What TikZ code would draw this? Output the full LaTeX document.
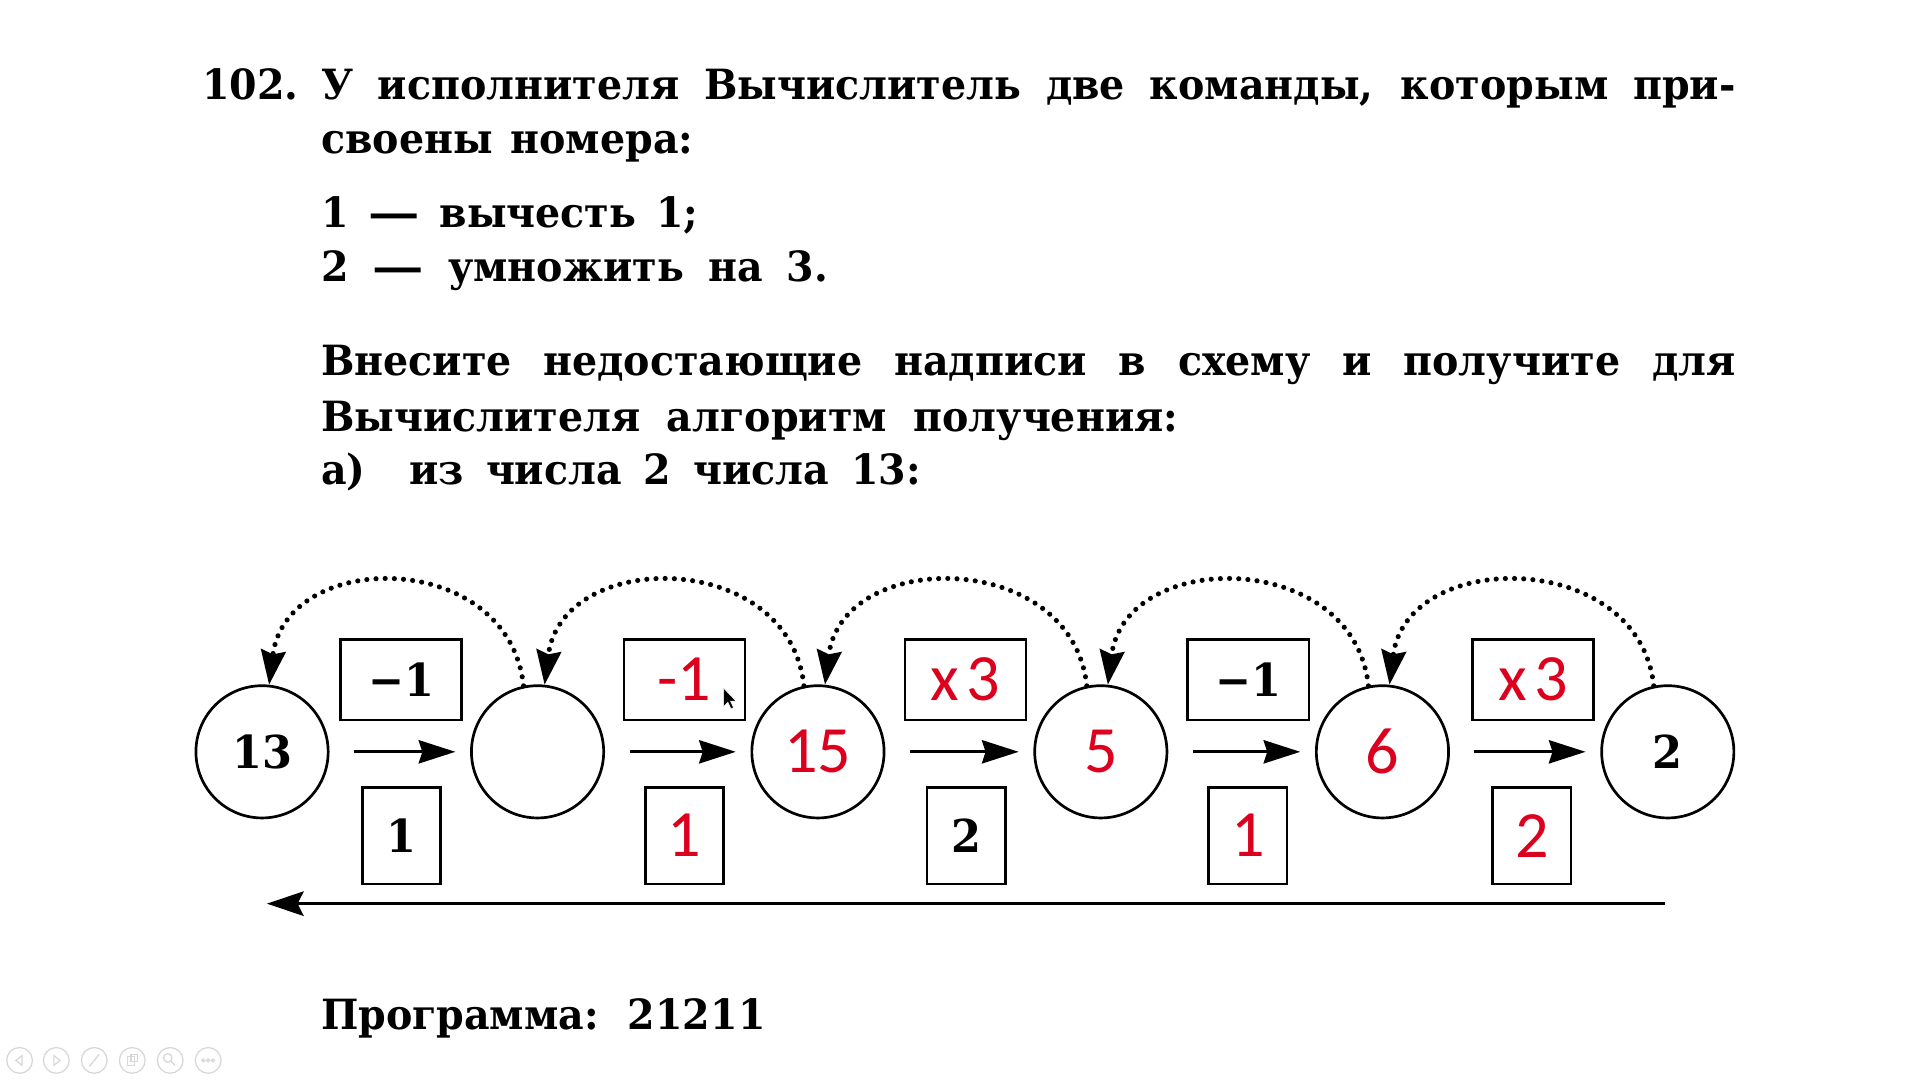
\documentclass[tikz,border=0pt]{standalone}
\usepackage{fontspec}
\setmainfont{DejaVu Serif}[FakeStretch=0.95]
\newfontfamily\redf{Carlito}
\usetikzlibrary{arrows.meta}
\definecolor{ansred}{RGB}{220,0,30}
\definecolor{icongray}{RGB}{215,215,215}
\newcommand{\longdash}{\scalebox{1.3}[1]{—}}
\tikzset{
  txt/.style={anchor=base west, inner sep=0pt, font=\bfseries\fontsize{34}{40}\selectfont},
  circ/.style={circle, draw, line width=2.2pt, minimum size=108pt, inner sep=0pt},
  topbox/.style={draw, line width=2.2pt, minimum width=99pt, minimum height=66pt, inner sep=0pt},
  botbox/.style={draw, line width=2.2pt, minimum width=64pt, minimum height=79pt, inner sep=0pt},
  blk/.style={font=\bfseries\fontsize{37}{40}\selectfont},
  rd/.style={text=ansred, font=\redf\fontsize{54}{60}\selectfont},
  flow/.style={line width=2.4pt, -{Stealth[length=30pt 0 0, width=19pt 0 0, inset=3pt 0 0]}, shorten <=20pt, shorten >=12pt},
  dotarc/.style={line width=4.2pt, line cap=round, dash pattern=on 0pt off 7.5pt, -{Stealth[length=28pt 0 0, width=20pt 0 0, inset=3pt 0 0]}},
  back/.style={line width=2.4pt, -{Stealth[length=30pt 0 0, width=20pt 0 0, inset=5pt 0 0]}},
  icon/.style={draw=icongray, line width=1pt}
}
\begin{document}
\begin{tikzpicture}[x=1pt, y=1pt]
\fill[white] (0,0) rectangle (1568,882);
\useasboundingbox (0,0) rectangle (1568,882);

% ---- text ----
\node[txt] (t0) at (165,801) {102.};
\node[txt] (t1) at (262,801) {\makebox[1155pt][s]{У исполнителя Вычислитель две команды, которым при-}};
\node[txt] (t2) at (262,757) {\makebox[304pt][s]{своены номера:}};
\node[txt] (t3) at (262,696) {\makebox[308pt][s]{1 \longdash{} вычесть 1;}};
\node[txt] (t4) at (262,652) {\makebox[414pt][s]{2 \longdash{} умножить на 3.}};
\node[txt] (t5) at (262,575) {\makebox[1155pt][s]{Внесите недостающие надписи в схему и получите для}};
\node[txt] (t6) at (262,530) {\makebox[700pt][s]{Вычислителя алгоритм получения:}};
\node[txt] (t7) at (262,486) {\makebox[490pt][s]{а)\ \ из числа 2 числа 13:}};
\node[txt] (t8) at (262,41) {\makebox[363pt][s]{Программа: 21211}};

% ---- circles ----
\node[circ, blk] (c1) at (214,268) {13};
\node[circ] (c2) at (439,268) {};
\node[circ, rd] (c3) at (668,268) {15};
\node[circ, rd] (c4) at (899,268) {5};
\node[circ, rd] (c5) at (1129,268) {6};
\node[circ, blk] (c6) at (1362,268) {2};

% ---- top boxes ----
\node[topbox, blk] (a1) at (327.5,327) {−1};
\node[topbox, rd] (a2) at (559,327) {-1};
\node[topbox, rd] (a3) at (788.5,327) {x\kern6pt3};
\node[topbox, blk] (a4) at (1019.5,327) {−1};
\node[topbox, rd] (a5) at (1252,327) {x\kern6pt3};

% ---- bottom boxes ----
\node[botbox, blk] (b1) at (328,199.5) {1};
\node[botbox, rd] (b2) at (559,199.5) {1};
\node[botbox, blk] (b3) at (789,199.5) {2};
\node[botbox, rd] (b4) at (1019,199.5) {1};
\node[botbox, rd] (b5) at (1251,199.5) {2};

% ---- flow arrows ----
\draw[flow] (c1) -- (c2);
\draw[flow] (c2) -- (c3);
\draw[flow] (c3) -- (c4);
\draw[flow] (c4) -- (c5);
\draw[flow] (c5) -- (c6);

% ---- dotted arcs ----
\draw[dotarc] (c2.102) .. controls +(-12,112) and +(14,112) .. (c1.84);
\draw[dotarc] (c3.102) .. controls +(-12,112) and +(14,112) .. (c2.84);
\draw[dotarc] (c4.102) .. controls +(-12,112) and +(14,112) .. (c3.84);
\draw[dotarc] (c5.102) .. controls +(-12,112) and +(14,112) .. (c4.84);
\draw[dotarc] (c6.102) .. controls +(-12,112) and +(14,112) .. (c5.84);

% ---- long back arrow ----
\coordinate (ls) at (1360,144);
\coordinate (le) at (218,144);
\draw[back] (ls) -- (le);

% ---- mouse cursor ----
\fill[black, draw=white, line width=0.4pt] (591,320) -- (591,305) -- (594.5,308.5) -- (597,303) -- (599,304) -- (596.5,309.5) -- (601,309.5) -- cycle;

% ---- slideshow toolbar icons ----
\foreach \x/\n in {16/i1,46/i2,77/i3,108/i4,139/i5,170/i6}{
  \node[icon, circle, minimum size=21pt, inner sep=0pt] (\n) at (\x,16) {};
}
\draw[icon] (18,20) -- (13,16) -- (18,12) -- cycle;
\draw[icon] (44,20) -- (49,16) -- (44,12) -- cycle;
\draw[icon] (73,11) -- (81,21);
\draw[icon] (104,12) rectangle (110,19); \draw[icon] (107,15) rectangle (112,21);
\draw[icon] (137,18) circle (3.5pt); \draw[icon] (139.5,15.5) -- (143,12);
\foreach \dx in {-4,0,4}{\draw[icon] (170+\dx,16) circle (1.2pt);}
\end{tikzpicture}
\end{document}
